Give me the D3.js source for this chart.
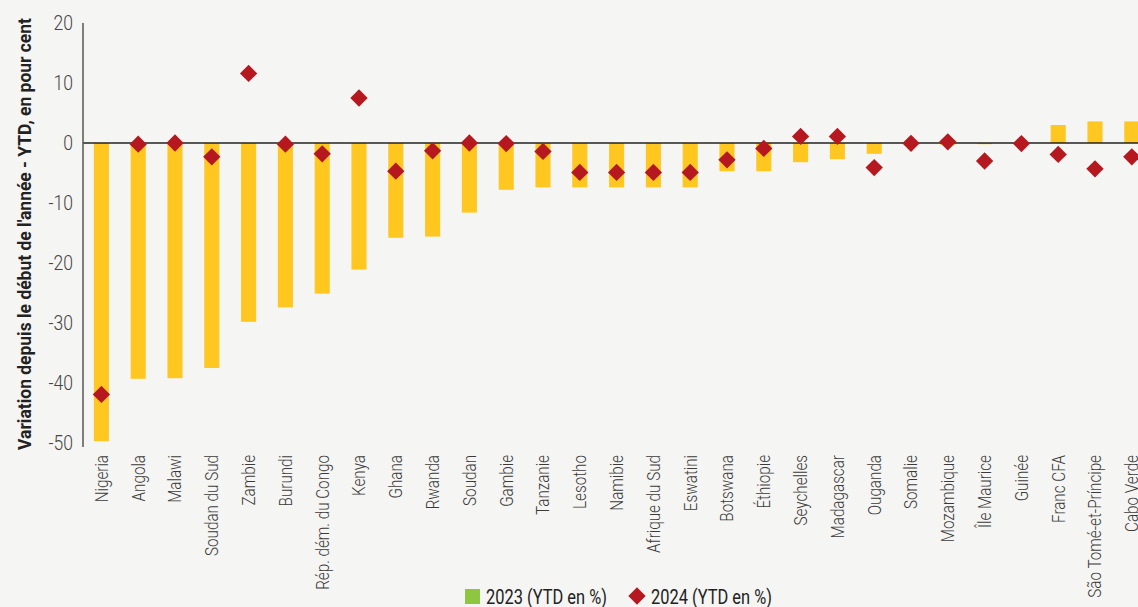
<!DOCTYPE html>
<html><head><meta charset="utf-8">
<script src="https://cdn.jsdelivr.net/npm/d3@7"></script>
<style>
body{margin:0;background:#f5f5f3;}
svg{display:block;font-family:Roboto,"Open Sans",sans-serif;}
</style></head><body>
<svg id="c" width="1138" height="607"></svg>
<script>
const categories = ["Nigeria","Angola","Malawi","Soudan du Sud","Zambie","Burundi","Rép. dém. du Congo","Kenya","Ghana","Rwanda","Soudan","Gambie","Tanzanie","Lesotho","Namibie","Afrique du Sud","Eswatini","Botswana","Éthiopie","Seychelles","Madagascar","Ouganda","Somalie","Mozambique","Île Maurice","Guinée","Franc CFA","São Tomé-et-Príncipe","Cabo Verde"];
const values2023 = [-49.7,-39.3,-39.2,-37.5,-29.8,-27.4,-25.1,-21.1,-15.8,-15.6,-11.6,-7.8,-7.4,-7.4,-7.4,-7.4,-7.4,-4.7,-4.7,-3.2,-2.7,-1.8,-0.2,-0.3,-0.2,0,3.0,3.6,3.6];
const values2024 = [-41.9,-0.2,0,-2.3,11.6,-0.2,-1.8,7.5,-4.7,-1.3,0,-0.1,-1.4,-4.9,-4.9,-4.9,-4.9,-2.8,-0.9,1.1,1.1,-4.1,-0.05,0.2,-3.0,-0.1,-1.9,-4.3,-2.3];
const yTicks = [20,10,0,-10,-20,-30,-40,-50];
const legendLabels = ["2023 (YTD en %)","2024 (YTD en %)"];
const yTitle = "Variation depuis le début de l'année - YTD, en pour cent";

const svg = d3.select("#c");
svg.append("rect").attr("width",1138).attr("height",607).attr("fill","#f5f5f3");

function condenseFactor(str, size, weight, target){
  const t = svg.append("text").attr("font-size",size).attr("font-weight",weight).text(str);
  const w = t.node().getComputedTextLength();
  t.remove();
  return target / w;
}

const x = d3.scaleBand().domain(categories).range([83, 83 + 29*36.8]).paddingInner(0.59).paddingOuter(0.295);
const y = d3.scaleLinear().domain([-50,20]).range([443,23]);

// bars
svg.append("g").selectAll("rect").data(categories).join("rect")
  .attr("x", d => x(d))
  .attr("width", x.bandwidth())
  .attr("y", (d,i) => y(Math.max(0, values2023[i])))
  .attr("height", (d,i) => Math.abs(y(values2023[i]) - y(0)))
  .attr("fill","#ffc720");

// zero line
svg.append("line").attr("x1",83).attr("x2",1138).attr("y1",y(0)).attr("y2",y(0))
  .attr("stroke","#222").attr("stroke-width",1.5);

// y axis line
svg.append("line").attr("x1",83).attr("x2",83).attr("y1",23).attr("y2",447)
  .attr("stroke","#555").attr("stroke-width",1.5);

// y tick labels
const sTick = condenseFactor("-50", 20, 300, 24.5);
svg.append("g").selectAll("text").data(yTicks).join("text")
  .attr("transform", d => `translate(73,${y(d)}) scale(${sTick},1)`)
  .attr("text-anchor","end").attr("dy","0.36em")
  .attr("font-size",20).attr("font-weight",300).attr("fill","#444")
  .text(d => d);

// diamonds
const diamond = d3.symbol().type(d3.symbolSquare).size(150);
svg.append("g").selectAll("path").data(categories).join("path")
  .attr("d", diamond)
  .attr("transform",(d,i)=>`translate(${x(d)+x.bandwidth()/2},${y(values2024[i])}) rotate(45)`)
  .attr("fill","#b5191f");

// x labels
const sLab = condenseFactor("Rép. dém. du Congo", 18, 300, 135);
svg.append("g").selectAll("text").data(categories).join("text")
  .attr("transform", d => `translate(${x(d)+x.bandwidth()/2},455) rotate(-90) scale(${sLab},1)`)
  .attr("text-anchor","end").attr("dy","0.35em")
  .attr("font-size",18).attr("font-weight",300).attr("fill","#3a3a3a")
  .text(d => d);

// y title
const sTitle = condenseFactor(yTitle, 19, 700, 432);
svg.append("text").attr("transform",`translate(31,234) rotate(-90) scale(${sTitle},1)`)
  .attr("text-anchor","middle").attr("font-size",19).attr("font-weight",700).attr("fill","#222")
  .text(yTitle);

// legend
const sLeg = condenseFactor(legendLabels[0], 20, 400, 121);
const lg = svg.append("g");
lg.append("rect").attr("x",465).attr("y",589).attr("width",15).attr("height",15).attr("fill","#8dc63f");
lg.append("text").attr("transform",`translate(486,604) scale(${sLeg},1)`).attr("font-size",20).attr("fill","#222").text(legendLabels[0]);
lg.append("path").attr("d",d3.symbol().type(d3.symbolSquare).size(150)).attr("transform","translate(637,596) rotate(45)").attr("fill","#b5191f");
lg.append("text").attr("transform",`translate(651,604) scale(${sLeg},1)`).attr("font-size",20).attr("fill","#222").text(legendLabels[1]);
</script>
</body></html>
